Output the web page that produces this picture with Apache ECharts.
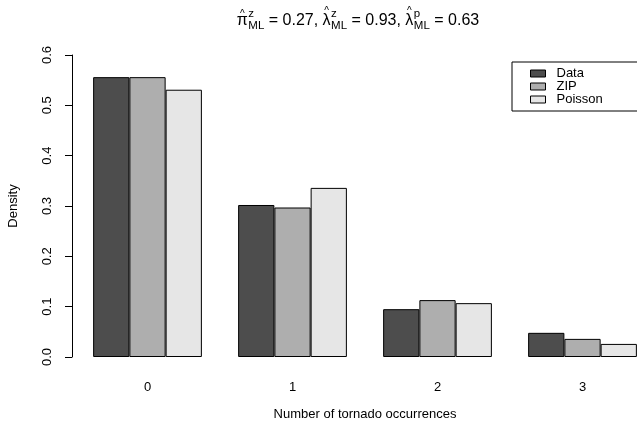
<!DOCTYPE html>
<html>
<head>
<meta charset="utf-8">
<script src="https://cdn.jsdelivr.net/npm/echarts@6/dist/echarts.min.js"></script>
<style>
html,body{margin:0;padding:0;background:#fff;}
#chart{width:637px;height:429px;}
</style>
</head>
<body>
<div id="chart"></div>
<script>
// ---- data ----
var categories = ['0', '1', '2', '3'];
var seriesNames = ['Data', 'ZIP', 'Poisson'];
var dataValues = [0.556, 0.302, 0.095, 0.048];
var zipValues = [0.556, 0.297, 0.113, 0.036];
var poissonValues = [0.531, 0.336, 0.107, 0.026];
var yTicks = [0, 0.1, 0.2, 0.3, 0.4, 0.5, 0.6];
var xTitle = 'Number of tornado occurrences';
var yTitle = 'Density';
var titleParts = [
  {base: 'π', sup: 'z', sub: 'ML'},
  ' = 0.27, ',
  {base: 'λ', sup: 'z', sub: 'ML'},
  ' = 0.93, ',
  {base: 'λ', sup: 'p', sub: 'ML'},
  ' = 0.63'
];
var colors = ['#4D4D4D', '#AEAEAE', '#E6E6E6'];

var FONT = '"Liberation Sans", Arial, Helvetica, sans-serif';
var chart = echarts.init(document.getElementById('chart'), null, {renderer: 'canvas'});

// ---- title built from text pieces (plotmath-like) ----
var mainSize = 16, scriptSize = 11.5;
var mc = document.createElement('canvas').getContext('2d');
function tw(t, size) { mc.font = size + 'px ' + FONT; return mc.measureText(t).width; }
var pieces = [];
var cx = 0;
titleParts.forEach(function (p) {
  if (typeof p === 'string') {
    pieces.push({t: p, x: cx, dy: 0, size: mainSize});
    cx += tw(p, mainSize);
  } else {
    var bw = tw(p.base, mainSize);
    pieces.push({t: p.base, x: cx, dy: 0, size: mainSize});
    var hatDy = p.base === 'π' ? -8 : -11;
    pieces.push({t: '^', x: cx + bw / 2 - tw('^', 10) / 2, dy: hatDy, size: 10});
    cx += bw + 0.5;
    pieces.push({t: p.sup, x: cx, dy: -8, size: scriptSize});
    pieces.push({t: p.sub, x: cx, dy: 4, size: scriptSize});
    cx += Math.max(tw(p.sup, scriptSize), tw(p.sub, scriptSize));
  }
});
var titleCenterX = 358, titleBaseline = 25;
var startX = titleCenterX - cx / 2;
var titleGraphics = pieces.map(function (pc) {
  return {
    type: 'text',
    style: {
      text: pc.t,
      x: startX + pc.x,
      y: titleBaseline + pc.dy + pc.size * 0.22,
      font: pc.size + 'px ' + FONT,
      fill: '#000',
      textAlign: 'left',
      textVerticalAlign: 'bottom',
      verticalAlign: 'bottom'
    }
  };
});

function barSeries(name, values, color) {
  return {
    name: name,
    type: 'bar',
    data: values,
    barGap: '0%',
    barCategoryGap: '25%',
    itemStyle: {color: color, borderColor: '#000', borderWidth: 1},
    emphasis: {disabled: true},
    animation: false
  };
}

var option = {
  animation: false,
  textStyle: {fontFamily: FONT},
  grid: {left: 75, width: 580, top: 55, height: 302, containLabel: false, outerBoundsMode: 'none'},
  legend: {
    orient: 'vertical',
    left: 512,
    top: 62,
    padding: [5, 70, 5, 18],
    itemGap: 0,
    itemWidth: 15,
    itemHeight: 7,
    icon: 'rect',
    borderColor: '#000',
    borderWidth: 1,
    data: seriesNames,
    itemStyle: {borderColor: '#000', borderWidth: 1},
    textStyle: {fontSize: 13, color: '#000', fontFamily: FONT, lineHeight: 12, padding: [0, 0, 0, 6]},
    selectedMode: false
  },
  xAxis: {
    type: 'category',
    data: categories,
    axisLine: {show: false},
    axisTick: {show: false},
    axisLabel: {margin: 24, fontSize: 13, color: '#000', fontFamily: FONT},
    name: xTitle,
    nameLocation: 'middle',
    nameGap: 51,
    nameTextStyle: {fontSize: 13, color: '#000', fontFamily: FONT}
  },
  yAxis: {
    type: 'value',
    min: yTicks[0],
    max: yTicks[yTicks.length - 1],
    interval: 0.1,
    offset: 3,
    splitLine: {show: false},
    axisLine: {show: true, lineStyle: {color: '#000', width: 1}},
    axisTick: {show: true, length: 7, lineStyle: {color: '#000'}},
    axisLabel: {
      rotate: 90,
      margin: 18,
      fontSize: 13,
      color: '#000',
      fontFamily: FONT,
      formatter: function (v) { return v.toFixed(1); }
    },
    name: yTitle,
    nameLocation: 'middle',
    nameGap: 52,
    nameRotate: 90,
    nameTextStyle: {fontSize: 13, color: '#000', fontFamily: FONT}
  },
  graphic: titleGraphics,
  series: [
    barSeries(seriesNames[0], dataValues, colors[0]),
    barSeries(seriesNames[1], zipValues, colors[1]),
    barSeries(seriesNames[2], poissonValues, colors[2])
  ]
};
chart.setOption(option);
</script>
</body>
</html>
